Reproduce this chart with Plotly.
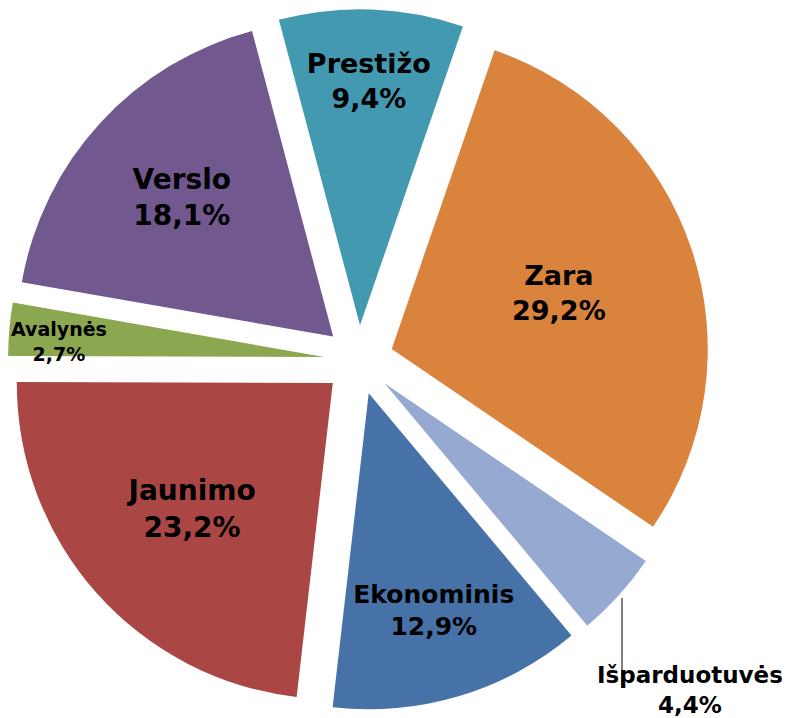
import plotly.graph_objects as go

labels = ["Zara", "Išparduotuvės", "Ekonominis", "Jaunimo", "Avalynės", "Verslo", "Prestižo"]
values = [29.2, 4.4, 12.9, 23.2, 2.7, 18.1, 9.4]
pct_text = ["29,2%", "4,4%", "12,9%", "23,2%", "2,7%", "18,1%", "9,4%"]
colors = ["#DA833C", "#95A9D1", "#4672A8", "#AA4644", "#8BA74F", "#71588F", "#4399B0"]

texts = [f"{l}<br>{p}" for l, p in zip(labels, pct_text)]
# labels of the two small slices are written beside the pie (as in the original)
positions = ["inside", "none", "inside", "inside", "none", "inside", "inside"]
sizes = [27, 23, 25, 28, 19, 28, 27]

FONT = "DejaVu Sans"
W, H = 790, 718


def px(x):
    return x / W


def py(y):
    return 1 - y / H


fig = go.Figure(go.Pie(
    labels=labels,
    values=values,
    text=texts,
    textinfo="text",
    textposition=positions,
    insidetextorientation="horizontal",
    textfont=dict(family=FONT, size=sizes, color="#000000", weight="bold"),
    marker=dict(colors=colors, line=dict(width=0)),
    pull=[0.11] * len(values),
    sort=False,
    direction="clockwise",
    rotation=19,
    hoverinfo="none",
    domain=dict(x=[0.0, 0.888], y=[0.0198, 0.9998]),
))

# outside label for Išparduotuvės with a leader line
fig.add_shape(type="line", xref="paper", yref="paper",
              x0=px(614), x1=px(614), y0=py(590), y1=py(680),
              line=dict(color="#000000", width=1))
fig.add_annotation(xref="paper", yref="paper", x=px(682), y=py(682),
                   xanchor="center", yanchor="middle", showarrow=False,
                   text=texts[1],
                   font=dict(family=FONT, size=sizes[1], color="#000000", weight="bold"))
# Avalynės label
fig.add_annotation(xref="paper", yref="paper", x=px(51), y=py(333),
                   xanchor="center", yanchor="middle", showarrow=False,
                   text=texts[4],
                   font=dict(family=FONT, size=sizes[4], color="#000000", weight="bold"))

fig.update_layout(
    width=W,
    height=H,
    margin=dict(l=0, r=0, t=0, b=0),
    showlegend=False,
    paper_bgcolor="#FFFFFF",
    plot_bgcolor="#FFFFFF",
)

fig.write_html("out.html")
